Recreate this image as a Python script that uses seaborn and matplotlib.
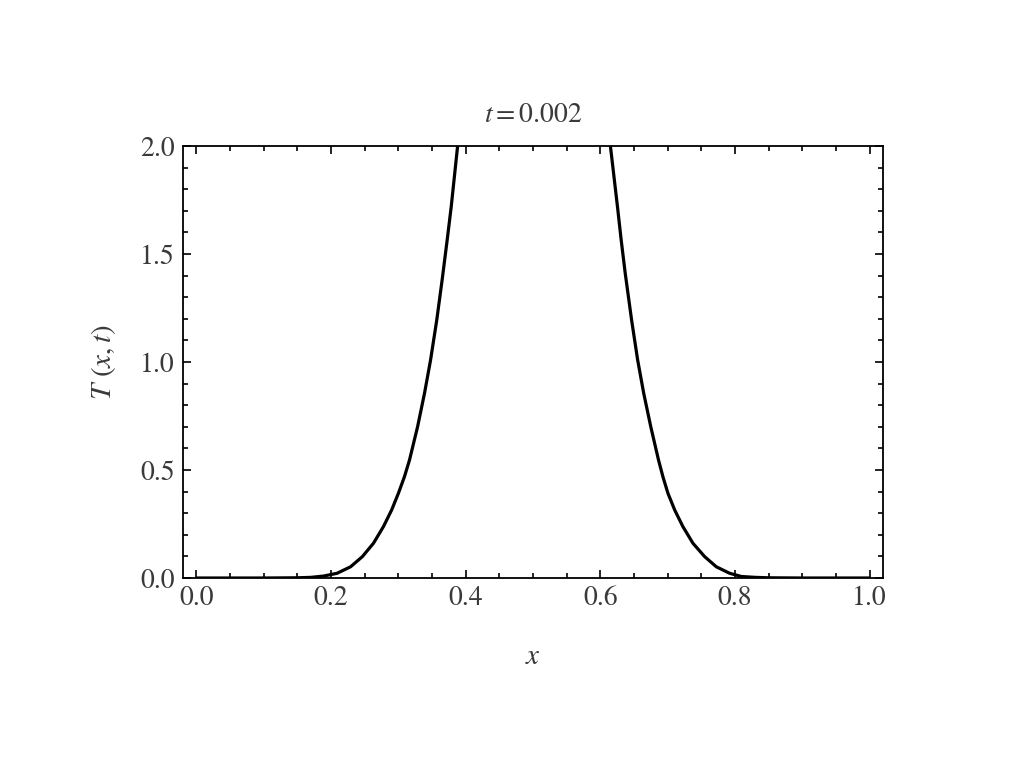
import matplotlib
matplotlib.use("Agg")
import matplotlib.pyplot as plt
import seaborn as sns
import pandas as pd
from matplotlib.ticker import MultipleLocator, FormatStrFormatter

# Values (the curve leaves the frame above T=2)
x_left = [0.0, 0.10, 0.150, 0.170, 0.189, 0.209, 0.229, 0.2465, 0.263, 0.2778,
          0.290, 0.300, 0.309, 0.3165, 0.3285, 0.3388, 0.3478, 0.357, 0.365,
          0.3725, 0.3785, 0.388]
T_left = [0.0, 0.0, 0.001, 0.003, 0.009, 0.022, 0.052, 0.099, 0.161, 0.238,
          0.315, 0.392, 0.469, 0.546, 0.700, 0.855, 1.009, 1.194, 1.380,
          1.565, 1.719, 2.0]

x_right = [0.615, 0.6255, 0.631, 0.637, 0.6465, 0.6555, 0.6645, 0.675, 0.6865,
           0.693, 0.7005, 0.7105, 0.7227, 0.7376, 0.755, 0.7723, 0.792, 0.8095,
           0.830, 0.850, 0.90, 1.0]
T_right = [2.0, 1.719, 1.565, 1.411, 1.194, 1.009, 0.855, 0.700, 0.546,
           0.469, 0.392, 0.315, 0.238, 0.161, 0.099, 0.052, 0.022, 0.007,
           0.003, 0.001, 0.0, 0.0]

title_text = "$t=$0.002"
xlabel_text = "$x$"
ylabel_text = "$T\\ (x,t)$"

sns.set_theme(style="ticks")
plt.rcParams["font.family"] = ["STIXGeneral", "Liberation Serif", "DejaVu Serif"]
plt.rcParams["mathtext.fontset"] = "stix"

df_left = pd.DataFrame({"x": x_left, "T": T_left})
df_right = pd.DataFrame({"x": x_right, "T": T_right})

fig = plt.figure(figsize=(10.24, 7.68), dpi=100)
ax = fig.add_axes([183 / 1024, 1 - 578 / 768, 700 / 1024, 432 / 768])

for d in (df_left, df_right):
    sns.lineplot(data=d, x="x", y="T", ax=ax, color="black", linewidth=2.3,
                 sort=False, estimator=None)

ax.set_xlim(-0.02, 1.02)
ax.set_ylim(0.0, 2.0)
ax.xaxis.set_major_locator(MultipleLocator(0.2))
ax.xaxis.set_minor_locator(MultipleLocator(0.05))
ax.yaxis.set_major_locator(MultipleLocator(0.5))
ax.yaxis.set_minor_locator(MultipleLocator(0.1))
ax.xaxis.set_major_formatter(FormatStrFormatter("%.1f"))
ax.yaxis.set_major_formatter(FormatStrFormatter("%.1f"))

lab_col = "#3a3a3a"
ax.tick_params(which="both", direction="in", top=True, right=True,
               colors="black", labelcolor=lab_col, labelsize=20, width=1.2)
ax.tick_params(which="major", length=6, pad=6)
ax.tick_params(which="minor", length=3.5)
for s in ax.spines.values():
    s.set_linewidth(1.3)
    s.set_color("black")

ax.set_title(title_text, fontsize=20, color=lab_col, pad=17)
ax.set_xlabel(xlabel_text, fontsize=21, color=lab_col, labelpad=24)
ax.set_ylabel(ylabel_text, fontsize=21, color=lab_col, labelpad=16)

fig.savefig("out.png", dpi=100, facecolor="white")
